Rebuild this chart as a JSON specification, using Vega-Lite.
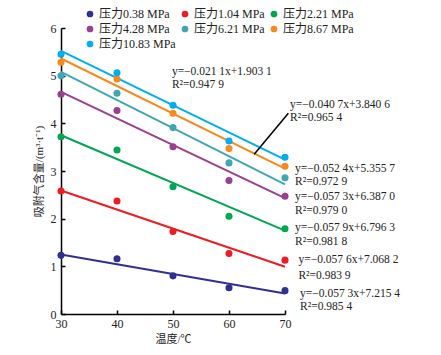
{
  "$schema": "https://vega.github.io/schema/vega-lite/v6.json",
  "autosize": "none",
  "width": 224,
  "height": 286,
  "padding": {"left": 61, "top": 28, "right": 156, "bottom": 41},
  "background": "white",
  "config": {
    "view": {"stroke": null},
    "font": "Liberation Serif, Noto Sans CJK SC",
    "axis": {"grid": false, "labelFlush": false, "domainColor": "black", "domainWidth": 1.5, "tickColor": "black", "tickWidth": 1.5, "labelColor": "#222", "titleColor": "#222", "labelFont": "Liberation Serif", "labelFontSize": 12, "titleFont": "Liberation Serif, Noto Sans CJK SC", "titleFontSize": 11, "titleFontWeight": "normal"},
    "legend": {"title": null, "orient": "none", "direction": "horizontal", "legendX": 23, "legendY": -20, "columns": 3, "columnPadding": 3, "rowPadding": 3, "padding": 0, "symbolType": "circle", "symbolSize": 45, "symbolStrokeWidth": 0, "labelFont": "Liberation Serif, Noto Sans CJK SC", "labelFontSize": 12, "labelColor": "#222", "labelOffset": 3, "gridAlign": "each"}
  },
  "datasets": {
    "points": [
      {"s": "压力0.38 MPa", "t": 30, "v": 1.23}, {"s": "压力0.38 MPa", "t": 40, "v": 1.16}, {"s": "压力0.38 MPa", "t": 50, "v": 0.80}, {"s": "压力0.38 MPa", "t": 60, "v": 0.55}, {"s": "压力0.38 MPa", "t": 70, "v": 0.49},
      {"s": "压力1.04 MPa", "t": 30, "v": 2.58}, {"s": "压力1.04 MPa", "t": 40, "v": 2.37}, {"s": "压力1.04 MPa", "t": 50, "v": 1.73}, {"s": "压力1.04 MPa", "t": 60, "v": 1.27}, {"s": "压力1.04 MPa", "t": 70, "v": 1.13},
      {"s": "压力2.21 MPa", "t": 30, "v": 3.72}, {"s": "压力2.21 MPa", "t": 40, "v": 3.44}, {"s": "压力2.21 MPa", "t": 50, "v": 2.67}, {"s": "压力2.21 MPa", "t": 60, "v": 2.05}, {"s": "压力2.21 MPa", "t": 70, "v": 1.79},
      {"s": "压力4.28 MPa", "t": 30, "v": 4.61}, {"s": "压力4.28 MPa", "t": 40, "v": 4.27}, {"s": "压力4.28 MPa", "t": 50, "v": 3.51}, {"s": "压力4.28 MPa", "t": 60, "v": 2.80}, {"s": "压力4.28 MPa", "t": 70, "v": 2.47},
      {"s": "压力6.21 MPa", "t": 30, "v": 5.00}, {"s": "压力6.21 MPa", "t": 40, "v": 4.63}, {"s": "压力6.21 MPa", "t": 50, "v": 3.91}, {"s": "压力6.21 MPa", "t": 60, "v": 3.17}, {"s": "压力6.21 MPa", "t": 70, "v": 2.86},
      {"s": "压力8.67 MPa", "t": 30, "v": 5.28}, {"s": "压力8.67 MPa", "t": 40, "v": 4.93}, {"s": "压力8.67 MPa", "t": 50, "v": 4.21}, {"s": "压力8.67 MPa", "t": 60, "v": 3.47}, {"s": "压力8.67 MPa", "t": 70, "v": 3.10},
      {"s": "压力10.83 MPa", "t": 30, "v": 5.45}, {"s": "压力10.83 MPa", "t": 40, "v": 5.06}, {"s": "压力10.83 MPa", "t": 50, "v": 4.38}, {"s": "压力10.83 MPa", "t": 60, "v": 3.63}, {"s": "压力10.83 MPa", "t": 70, "v": 3.29}
    ],
    "lines": [
      {"s": "压力0.38 MPa", "t": 30, "v": 1.25}, {"s": "压力0.38 MPa", "t": 70, "v": 0.43},
      {"s": "压力1.04 MPa", "t": 30, "v": 2.59}, {"s": "压力1.04 MPa", "t": 70, "v": 0.99},
      {"s": "压力2.21 MPa", "t": 30, "v": 3.75}, {"s": "压力2.21 MPa", "t": 70, "v": 1.75},
      {"s": "压力4.28 MPa", "t": 30, "v": 4.66}, {"s": "压力4.28 MPa", "t": 70, "v": 2.43},
      {"s": "压力6.21 MPa", "t": 30, "v": 5.08}, {"s": "压力6.21 MPa", "t": 70, "v": 2.72},
      {"s": "压力8.67 MPa", "t": 30, "v": 5.36}, {"s": "压力8.67 MPa", "t": 70, "v": 3.05},
      {"s": "压力10.83 MPa", "t": 30, "v": 5.52}, {"s": "压力10.83 MPa", "t": 70, "v": 3.24}
    ],
    "leader": [{"t": 64.5, "v": 3.35, "t2": 70.6, "v2": 4.21}],
    "labels": [
      {"t": 49.8, "v": 5.08, "txt": "y=−0.021 1x+1.903 1"}, {"t": 49.8, "v": 4.81, "txt": "R²=0.947 9"},
      {"t": 70.9, "v": 4.39, "txt": "y=−0.040 7x+3.840 6"}, {"t": 70.9, "v": 4.11, "txt": "R²=0.965 4"},
      {"t": 71.8, "v": 3.04, "txt": "y=−0.052 4x+5.355 7"}, {"t": 71.8, "v": 2.76, "txt": "R²=0.972 9"},
      {"t": 71.8, "v": 2.45, "txt": "y=−0.057 3x+6.387 0"}, {"t": 71.8, "v": 2.16, "txt": "R²=0.979 0"},
      {"t": 71.8, "v": 1.80, "txt": "y=−0.057 9x+6.796 3"}, {"t": 71.8, "v": 1.52, "txt": "R²=0.981 8"},
      {"t": 72.4, "v": 1.13, "txt": "y=−0.057 6x+7.068 2"}, {"t": 72.4, "v": 0.80, "txt": "R²=0.983 9"},
      {"t": 72.7, "v": 0.43, "txt": "y=−0.057 3x+7.215 4"}, {"t": 72.7, "v": 0.14, "txt": "R²=0.985 4"}
    ]
  },
  "encoding": {
    "x": {"field": "t", "type": "quantitative", "scale": {"domain": [30, 70], "nice": false}, "axis": {"title": "温度/℃", "values": [30, 40, 50, 60, 70], "tickSize": -4, "labelPadding": 8, "titlePadding": 4}},
    "y": {"field": "v", "type": "quantitative", "scale": {"domain": [0, 6], "nice": false}, "axis": {"title": "吸附气含量/(m³·t⁻¹)", "values": [0, 1, 2, 3, 4, 5, 6], "tickSize": -4, "labelPadding": 9, "titlePadding": 6}},
    "color": {"field": "s", "type": "nominal", "scale": {"domain": ["压力0.38 MPa", "压力1.04 MPa", "压力2.21 MPa", "压力4.28 MPa", "压力6.21 MPa", "压力8.67 MPa", "压力10.83 MPa"], "range": ["#2E3192", "#ED1C24", "#00A651", "#9B3F8F", "#41A6B4", "#F7891F", "#00AEEF"]},
      "legend": {"values": ["压力0.38 MPa", "压力1.04 MPa", "压力2.21 MPa", "压力4.28 MPa", "压力6.21 MPa", "压力8.67 MPa", "压力10.83 MPa"]}}
  },
  "layer": [
    {
      "data": {"name": "lines"},
      "mark": {"type": "line", "strokeWidth": 2},
      "encoding": {"detail": {"field": "s"}}
    },
    {
      "data": {"name": "points"},
      "mark": {"type": "point", "filled": true, "opacity": 1, "size": 50, "shape": "circle", "strokeWidth": 0}
    },
    {
      "data": {"name": "leader"},
      "mark": {"type": "rule", "color": "black", "strokeWidth": 1.5, "clip": false},
      "encoding": {"x2": {"field": "t2"}, "y2": {"field": "v2"}, "color": {"value": "black"}}
    },
    {
      "data": {"name": "labels"},
      "mark": {"type": "text", "align": "left", "baseline": "middle", "fontSize": 11.5, "font": "Liberation Serif", "clip": false},
      "encoding": {"text": {"field": "txt"}, "color": {"value": "#222"}}
    }
  ]
}
